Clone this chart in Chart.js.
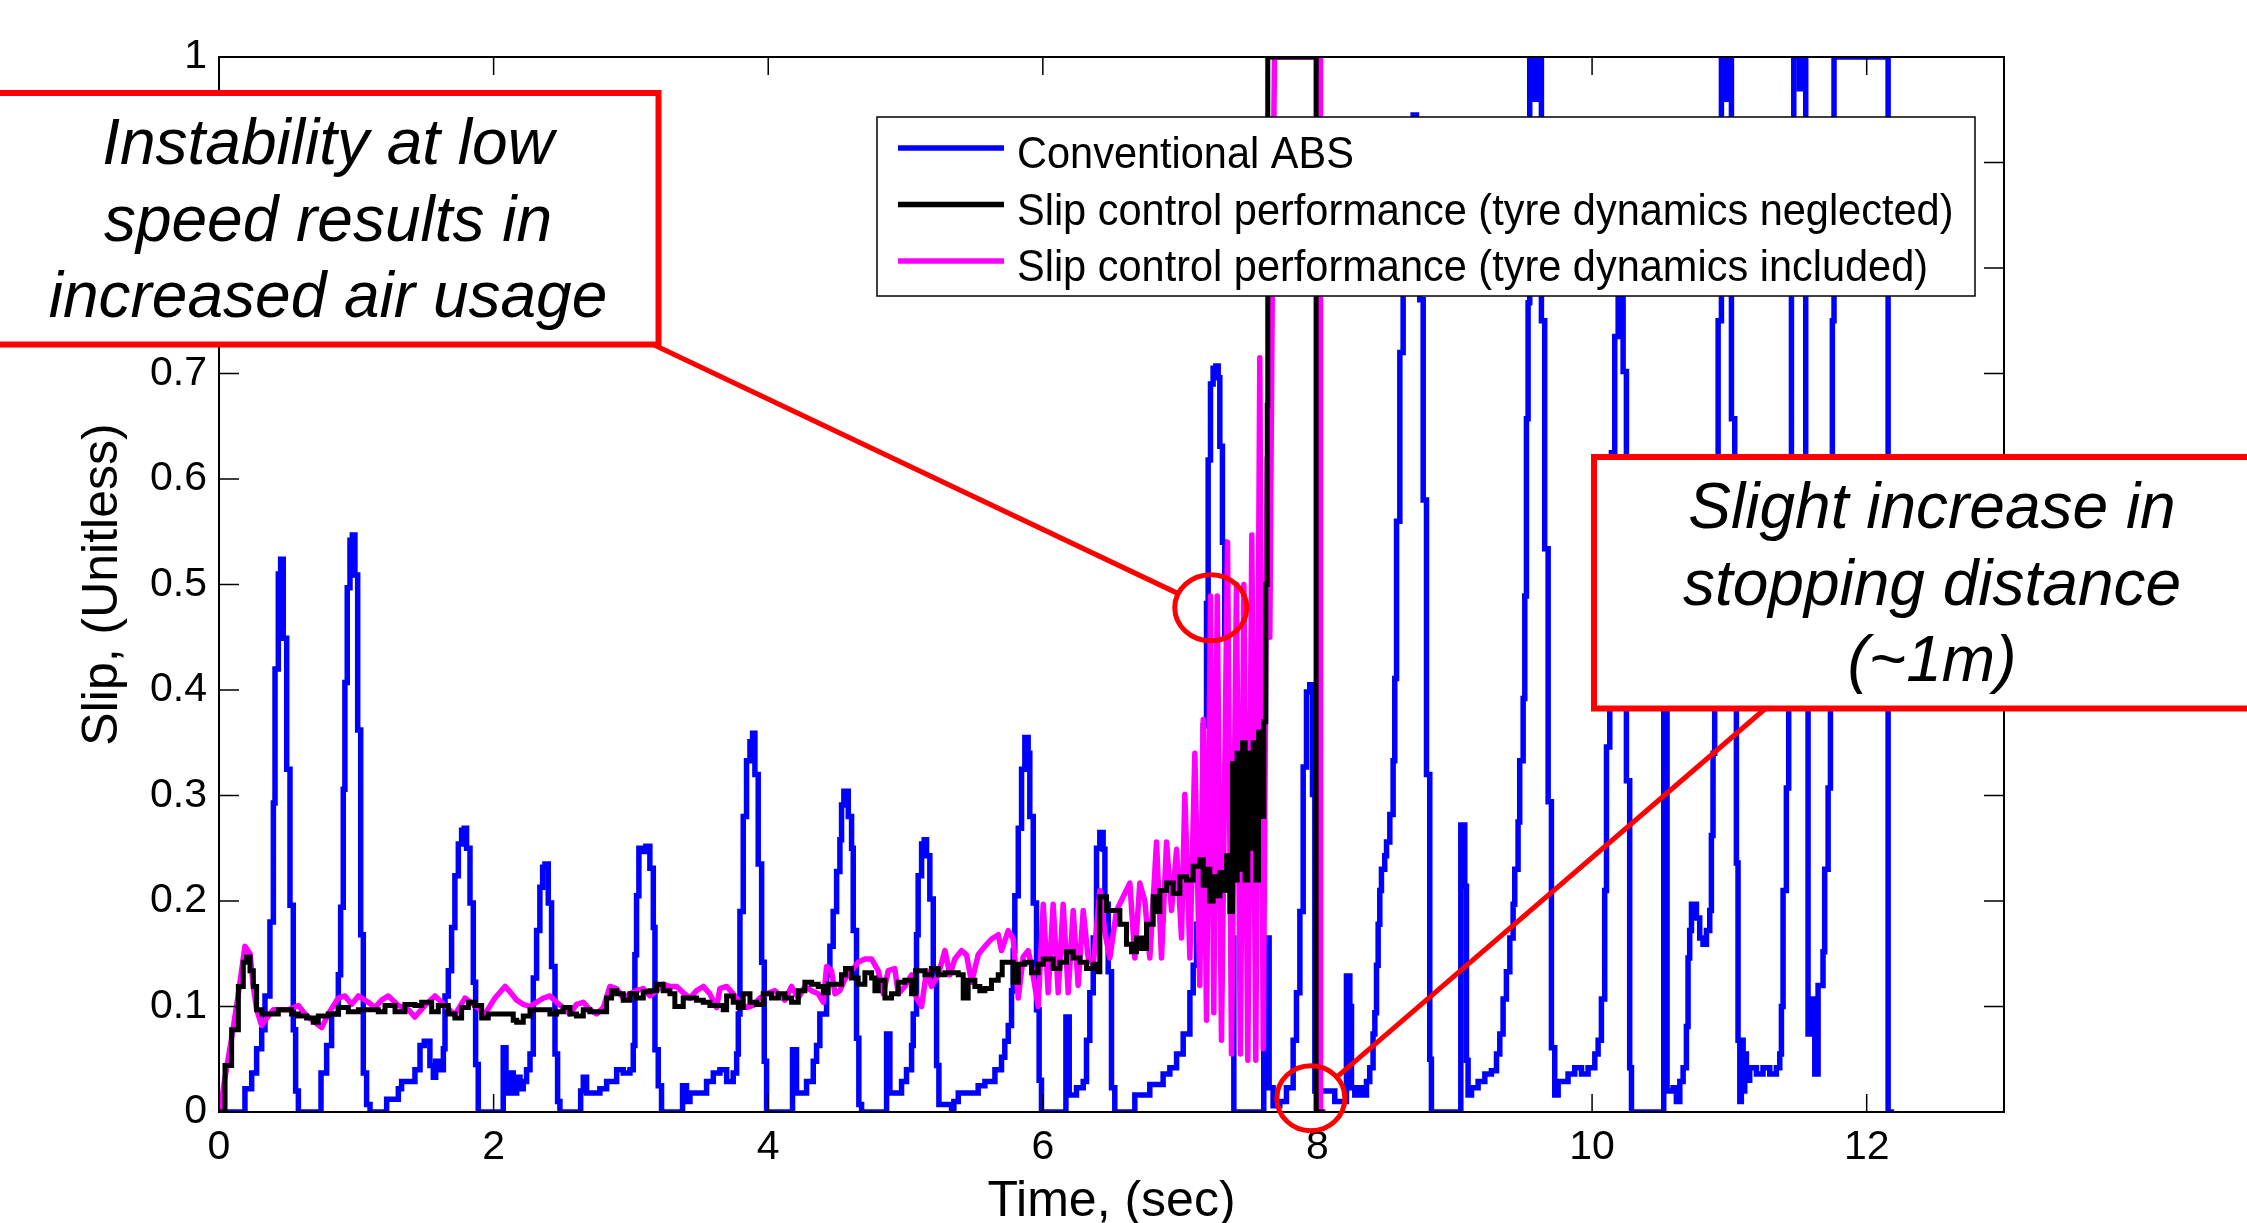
<!DOCTYPE html>
<html>
<head>
<meta charset="utf-8">
<title>Slip vs time</title>
<script src="https://cdn.jsdelivr.net/npm/chart.js@4.4.1/dist/chart.umd.min.js"></script>
<style>
  html, body { margin: 0; padding: 0; overflow: hidden; background: #fff; }
  canvas { display: block; }
</style>
</head>
<body>
<canvas id="slip" width="2247" height="1232"></canvas>
<script>
// series: [time (s), slip]
const absPoints = [
  [0,0],[0.189,0.022],[0.238,0.037],[0.274,0.06],[0.311,0.078],[0.335,0.11],[0.371,0.18],[0.396,0.293],[0.408,0.42],[0.432,0.51],[0.449,0.524],[0.468,0.449],[0.493,0.325],[0.517,0.196],[0.541,0.078],[0.558,0.02],[0.578,0],
  [0.743,0.037],[0.784,0.063],[0.82,0.093],[0.869,0.13],[0.886,0.194],[0.905,0.306],[0.917,0.407],[0.934,0.497],[0.954,0.542],[0.971,0.547],[0.99,0.509],[1.01,0.362],[1.032,0.168],[1.051,0.037],[1.075,0.007],[1.1,0],
  [1.221,0.012],[1.306,0.022],[1.33,0.029],[1.427,0.04],[1.464,0.063],[1.495,0.067],[1.536,0.044],[1.561,0.033],[1.578,0.048],[1.609,0.04],[1.634,0.06],[1.646,0.11],[1.67,0.134],[1.694,0.175],[1.718,0.224],[1.743,0.254],[1.767,0.267],[1.786,0.269],[1.803,0.25],[1.828,0.198],[1.852,0.123],[1.869,0.045],[1.888,0],
  [2.07,0.061],[2.09,0.018],[2.124,0.037],[2.143,0.018],[2.168,0.033],[2.192,0.022],[2.216,0.029],[2.24,0.04],[2.265,0.055],[2.289,0.127],[2.313,0.172],[2.337,0.213],[2.357,0.232],[2.374,0.235],[2.398,0.198],[2.422,0.138],[2.447,0.055],[2.466,0.01],[2.483,0],
  [2.634,0.02],[2.653,0.033],[2.677,0.018],[2.774,0.022],[2.823,0.029],[2.896,0.04],[2.944,0.037],[2.993,0.04],[3.017,0.063],[3.029,0.149],[3.041,0.205],[3.058,0.25],[3.085,0.247],[3.109,0.252],[3.138,0.231],[3.163,0.175],[3.175,0.059],[3.199,0.025],[3.223,0],
  [3.376,0.025],[3.405,0.01],[3.43,0.018],[3.551,0.029],[3.6,0.037],[3.648,0.04],[3.697,0.029],[3.745,0.037],[3.77,0.055],[3.782,0.093],[3.794,0.19],[3.818,0.28],[3.842,0.333],[3.867,0.351],[3.886,0.359],[3.903,0.32],[3.927,0.235],[3.952,0.142],[3.971,0.048],[3.988,0],
  [4.177,0.059],[4.206,0.018],[4.279,0.029],[4.328,0.048],[4.352,0.063],[4.376,0.093],[4.425,0.13],[4.449,0.157],[4.473,0.19],[4.498,0.228],[4.522,0.258],[4.534,0.291],[4.551,0.304],[4.583,0.28],[4.607,0.25],[4.619,0.172],[4.643,0.07],[4.66,0.007],[4.68,0],
  [4.862,0.074],[4.886,0.018],[4.971,0.029],[5.007,0.04],[5.044,0.063],[5.056,0.093],[5.08,0.168],[5.092,0.224],[5.117,0.254],[5.136,0.258],[5.153,0.243],[5.177,0.202],[5.202,0.123],[5.226,0.044],[5.243,0.007],[5.335,0],
  [5.352,0.01],[5.384,0.018],[5.529,0.025],[5.578,0.029],[5.651,0.04],[5.699,0.052],[5.723,0.067],[5.748,0.082],[5.772,0.115],[5.784,0.153],[5.796,0.205],[5.821,0.269],[5.845,0.325],[5.869,0.355],[5.893,0.34],[5.905,0.28],[5.93,0.198],[5.954,0.097],[5.973,0.03],[5.99,0],
  [6.168,0.09],[6.192,0.016],[6.245,0.023],[6.294,0.029],[6.318,0.068],[6.342,0.113],[6.367,0.165],[6.391,0.25],[6.415,0.265],[6.439,0.249],[6.452,0.197],[6.476,0.133],[6.5,0.023],[6.524,0],
  [6.67,0.016],[6.779,0.026],[6.876,0.036],[6.925,0.042],[6.974,0.055],[7.022,0.074],[7.071,0.113],[7.095,0.139],[7.119,0.178],[7.143,0.262],[7.168,0.366],[7.192,0.482],[7.204,0.618],[7.221,0.69],[7.24,0.705],[7.26,0.707],[7.277,0.696],[7.289,0.631],[7.308,0.54],[7.325,0.45],[7.35,0.295],[7.374,0.165],[7.391,0],
  [7.609,0.165],[7.648,0.023],[7.677,0.006],[7.726,0.01],[7.774,0.023],[7.823,0.068],[7.847,0.113],[7.872,0.19],[7.896,0.327],[7.92,0.398],[7.944,0.405],[7.964,0.301],[7.981,0.02],[8.126,0.01],
  [8.211,0.129],[8.236,0.1],[8.248,0.023],[8.272,0.016],[8.296,0.023],[8.333,0.016],[8.357,0.029],[8.381,0.042],[8.405,0.074],[8.418,0.094],[8.43,0.139],[8.442,0.178],[8.454,0.21],[8.466,0.23],[8.49,0.243],[8.503,0.256],[8.527,0.282],[8.551,0.333],[8.563,0.411],[8.576,0.56],[8.6,0.72],[8.624,0.786],[8.648,0.845],[8.672,0.93],[8.697,0.945],[8.721,0.88],[8.745,0.77],[8.77,0.58],[8.794,0.32],[8.818,0.05],[8.83,0],
  [9.044,0.272],[9.073,0.214],[9.085,0.049],[9.097,0.016],[9.122,0.023],[9.17,0.029],[9.219,0.036],[9.267,0.039],[9.304,0.055],[9.328,0.074],[9.352,0.107],[9.376,0.133],[9.401,0.165],[9.425,0.197],[9.437,0.23],[9.461,0.275],[9.473,0.333],[9.498,0.392],[9.51,0.489],[9.522,0.657],[9.534,0.767],[9.546,1],[9.583,0.96],[9.602,1],[9.631,0.75],[9.655,0.534],[9.68,0.294],[9.704,0.061],[9.728,0.016],[9.753,0.029],[9.825,0.036],[9.874,0.042],[9.923,0.036],[9.971,0.042],
  [10.02,0.055],[10.044,0.068],[10.068,0.107],[10.092,0.21],[10.105,0.346],[10.129,0.489],[10.141,0.625],[10.165,0.735],[10.19,0.85],[10.214,0.82],[10.226,0.702],[10.25,0.314],[10.274,0.042],[10.287,0],
  [10.522,0.5],[10.546,0.02],[10.59,0.023],[10.614,0.01],[10.639,0.029],[10.663,0.042],[10.687,0.081],[10.699,0.146],[10.711,0.172],[10.724,0.197],[10.76,0.184],[10.784,0.165],[10.808,0.159],[10.833,0.172],[10.857,0.191],[10.869,0.262],[10.881,0.34],[10.893,0.45],[10.918,0.75],[10.942,1],[10.978,0.96],[10.998,1],[11.015,0.657],[11.039,0.437],[11.051,0.236],[11.063,0.068],[11.076,0.01],[11.087,0.068],[11.1,0.02],[11.112,0.055],[11.124,0.03],[11.148,0.042],[11.197,0.036],[11.245,0.042],[11.294,0.036],[11.342,0.042],[11.367,0.055],[11.379,0.1],[11.391,0.21],[11.415,0.307],[11.432,0.5],[11.452,0.8],[11.469,1],[11.51,0.97],[11.537,1],[11.556,0.6],[11.573,0.074],[11.59,0.1],[11.61,0.107],[11.622,0.036],[11.646,0.12],[11.682,0.152],[11.694,0.23],[11.719,0.307],[11.736,0.5],[11.75,0.75],[11.762,1],[12.156,0],[12.2,0]
];

const negPoints = [
  [0.007,0],[0.044,0.044],[0.092,0.078],[0.141,0.119],[0.177,0.142],[0.201,0.147],[0.226,0.134],[0.25,0.119],[0.274,0.097],[0.311,0.093],[0.384,0.093],[0.432,0.097],[0.481,0.097],[0.529,0.093],[0.578,0.091],[0.638,0.089],[0.687,0.085],[0.723,0.091],[0.796,0.093],[0.869,0.099],[0.942,0.095],[1.015,0.097],[1.112,0.097],[1.16,0.095],[1.209,0.101],[1.282,0.095],[1.354,0.102],[1.427,0.101],[1.476,0.104],[1.549,0.095],[1.597,0.101],[1.67,0.093],[1.718,0.089],[1.767,0.099],[1.816,0.104],[1.864,0.101],[1.913,0.089],[1.961,0.093],
  [2.07,0.093],[2.143,0.087],[2.168,0.085],[2.216,0.091],[2.265,0.097],[2.362,0.097],[2.41,0.093],[2.459,0.095],[2.507,0.099],[2.556,0.093],[2.604,0.091],[2.653,0.097],[2.701,0.095],[2.799,0.095],[2.823,0.108],[2.859,0.115],[2.896,0.112],[2.944,0.106],[2.993,0.112],[3.041,0.108],[3.09,0.114],[3.138,0.115],[3.187,0.121],[3.235,0.115],[3.284,0.112],[3.32,0.1],[3.381,0.108],[3.43,0.108],[3.478,0.106],[3.527,0.104],[3.575,0.101],[3.624,0.101],[3.672,0.097],[3.697,0.11],[3.745,0.104],[3.782,0.099],[3.818,0.112],[3.867,0.104],[3.915,0.102],[3.964,0.112],[4.024,0.108],
  [4.073,0.112],[4.121,0.108],[4.17,0.104],[4.219,0.115],[4.267,0.123],[4.316,0.121],[4.364,0.119],[4.401,0.113],[4.437,0.121],[4.486,0.121],[4.534,0.13],[4.563,0.136],[4.607,0.127],[4.655,0.121],[4.704,0.132],[4.753,0.127],[4.777,0.115],[4.801,0.125],[4.85,0.108],[4.898,0.112],[4.947,0.123],[4.995,0.125],[5.044,0.112],[5.073,0.134],[5.117,0.134],[5.141,0.13],[5.189,0.136],[5.238,0.13],[5.287,0.132],[5.335,0.132],[5.384,0.13],[5.42,0.108],[5.456,0.125],[5.505,0.119],[5.541,0.115],[5.578,0.117],[5.626,0.125],[5.675,0.13],[5.704,0.142],[5.748,0.142],[5.784,0.123],[5.821,0.14],[5.869,0.142],[5.918,0.132],[5.966,0.14],[6.003,0.145],
  [6.075,0.136],[6.124,0.142],[6.172,0.152],[6.221,0.146],[6.27,0.142],[6.318,0.136],[6.367,0.14],[6.403,0.133],[6.415,0.204],[6.464,0.191],[6.512,0.191],[6.561,0.178],[6.609,0.159],[6.646,0.152],[6.682,0.165],[6.719,0.155],[6.755,0.178],[6.804,0.204],[6.828,0.19],[6.852,0.21],[6.901,0.217],[6.949,0.207],[6.998,0.223],[7.046,0.22],[7.095,0.233],[7.143,0.239],[7.168,0.215],[7.192,0.23],[7.216,0.2],[7.24,0.223],[7.265,0.205],[7.289,0.227],[7.313,0.21],[7.338,0.243],[7.362,0.19],[7.381,0.33],[7.398,0.22],[7.415,0.34],[7.435,0.23],[7.454,0.35],[7.473,0.22],[7.493,0.34],[7.512,0.25],[7.532,0.35],[7.551,0.22],[7.571,0.36],[7.59,0.28],[7.609,0.37],[7.624,0.5],[7.634,0.67],[7.638,1],[7.988,1],[7.99,0],[8.05,0]
];

const incPoints = [
  [0.007,0],[0.044,0.033],[0.092,0.07],[0.141,0.112],[0.189,0.157],[0.226,0.15],[0.25,0.119],[0.274,0.097],[0.311,0.082],[0.347,0.089],[0.396,0.097],[0.456,0.097],[0.505,0.097],[0.578,0.101],[0.626,0.093],[0.699,0.085],[0.748,0.08],[0.796,0.093],[0.869,0.108],[0.917,0.11],[0.966,0.102],[1.015,0.11],[1.087,0.104],[1.136,0.099],[1.184,0.106],[1.233,0.11],[1.306,0.101],[1.379,0.097],[1.427,0.09],[1.5,0.101],[1.573,0.11],[1.646,0.101],[1.718,0.092],[1.791,0.108],[1.864,0.101],[1.937,0.093],[2.01,0.108],
  [2.083,0.119],[2.119,0.114],[2.168,0.106],[2.216,0.102],[2.265,0.1],[2.313,0.104],[2.362,0.108],[2.41,0.11],[2.459,0.104],[2.507,0.099],[2.556,0.093],[2.604,0.102],[2.653,0.104],[2.701,0.097],[2.75,0.093],[2.799,0.099],[2.847,0.119],[2.896,0.117],[2.944,0.108],[2.993,0.112],[3.041,0.115],[3.09,0.117],[3.138,0.11],[3.187,0.115],[3.235,0.121],[3.284,0.119],[3.333,0.119],[3.381,0.113],[3.43,0.108],[3.478,0.115],[3.527,0.119],[3.575,0.112],[3.624,0.099],[3.648,0.117],[3.697,0.119],[3.745,0.112],[3.794,0.104],[3.842,0.099],[3.891,0.101],[3.939,0.108],[3.988,0.112],[4.049,0.115],
  [4.121,0.106],[4.17,0.119],[4.219,0.108],[4.267,0.119],[4.316,0.115],[4.364,0.112],[4.401,0.104],[4.425,0.138],[4.461,0.134],[4.486,0.112],[4.522,0.115],[4.558,0.126],[4.607,0.134],[4.655,0.142],[4.704,0.145],[4.753,0.145],[4.801,0.134],[4.838,0.112],[4.874,0.134],[4.922,0.136],[4.947,0.112],[4.995,0.119],[5.044,0.13],[5.08,0.108],[5.117,0.1],[5.153,0.134],[5.189,0.119],[5.238,0.13],[5.287,0.153],[5.323,0.13],[5.359,0.145],[5.408,0.153],[5.444,0.149],[5.481,0.123],[5.529,0.149],[5.578,0.157],[5.626,0.164],[5.675,0.168],[5.699,0.153],[5.748,0.172],[5.784,0.164],[5.821,0.108],[5.857,0.147],[5.893,0.153],[5.918,0.138],[5.966,0.1],[6.003,0.197],
  [6.039,0.113],[6.075,0.197],[6.112,0.113],[6.148,0.197],[6.185,0.113],[6.221,0.191],[6.257,0.12],[6.294,0.191],[6.33,0.146],[6.367,0.139],[6.415,0.21],[6.452,0.17],[6.488,0.146],[6.537,0.191],[6.585,0.204],[6.634,0.217],[6.67,0.146],[6.706,0.217],[6.743,0.2],[6.779,0.146],[6.828,0.256],[6.864,0.146],[6.901,0.256],[6.937,0.191],[6.974,0.249],[7.01,0.165],[7.034,0.301],[7.071,0.146],[7.107,0.34],[7.143,0.12],[7.168,0.372],[7.192,0.087],[7.221,0.489],[7.245,0.094],[7.27,0.489],[7.301,0.068],[7.345,0.54],[7.374,0.055],[7.41,0.5],[7.439,0.055],[7.464,0.5],[7.493,0.049],[7.522,0.547],[7.551,0.049],[7.58,0.715],[7.605,0.06],[7.634,0.62],[7.653,0.45],[7.672,0.8],[7.687,1],[8.02,1],[8.022,0],[8.06,0]
];

const seriesLabels = [
  'Conventional ABS',
  'Slip control performance (tyre dynamics neglected)',
  'Slip control performance (tyre dynamics included)'
];

const xTicks = [0, 2, 4, 6, 8, 10, 12];
const xTickLabels = ['0', '2', '4', '6', '8', '10', '12'];
const yTicks = [0, 0.1, 0.2, 0.3, 0.4, 0.5, 0.6, 0.7, 0.8, 0.9, 1];
const yTickLabels = ['0', '0.1', '0.2', '0.3', '0.4', '0.5', '0.6', '0.7', '0.8', '0.9', '1'];

const noteLowSpeed = ['Instability at low', 'speed results in', 'increased air usage'];
const noteStopping = ['Slight increase in', 'stopping distance', '(~1m)'];

const CANVAS_H = 1232;
const FONT = '"Liberation Sans", Arial, Helvetica, sans-serif';

Chart.defaults.font.family = FONT;
Chart.defaults.color = '#000';

const toXY = pts => pts.map(([x, y]) => ({ x, y }));

// MATLAB style box with inward ticks on all four sides
const frame = {
  id: 'frame',
  afterDatasetsDraw(chart) {
    const { ctx, chartArea: a, scales: { x, y } } = chart;
    ctx.save();
    ctx.strokeStyle = '#000';
    ctx.lineWidth = 1.5;
    ctx.beginPath();
    x.ticks.forEach(t => {
      const px = x.getPixelForValue(t.value);
      ctx.moveTo(px, a.bottom); ctx.lineTo(px, a.bottom - 18);
      ctx.moveTo(px, a.top); ctx.lineTo(px, a.top + 18);
    });
    y.ticks.forEach(t => {
      const py = y.getPixelForValue(t.value);
      ctx.moveTo(a.left, py); ctx.lineTo(a.left + 20, py);
      ctx.moveTo(a.right, py); ctx.lineTo(a.right - 20, py);
    });
    ctx.stroke();
    ctx.lineWidth = 2;
    ctx.strokeRect(a.left, a.top, a.right - a.left, a.bottom - a.top);
    ctx.restore();
  }
};

const legendBox = {
  id: 'legendBox',
  afterDatasetsDraw(chart) {
    const { ctx } = chart;
    const box = { x: 877, y: 117, w: 1098, h: 179 };
    ctx.save();
    ctx.fillStyle = '#fff';
    ctx.fillRect(box.x, box.y, box.w, box.h);
    ctx.strokeStyle = '#000';
    ctx.lineWidth = 1.5;
    ctx.strokeRect(box.x, box.y, box.w, box.h);
    chart.data.datasets.forEach((ds, i) => {
      const ly = 148 + i * 56.5;
      ctx.strokeStyle = ds.borderColor;
      ctx.lineWidth = 5.5;
      ctx.beginPath();
      ctx.moveTo(898, ly);
      ctx.lineTo(1004, ly);
      ctx.stroke();
      ctx.save();
      ctx.translate(1017, ly + 20);
      ctx.scale(1, 1.08);
      ctx.fillStyle = '#000';
      ctx.font = '41.5px ' + FONT;
      ctx.textAlign = 'left';
      ctx.textBaseline = 'alphabetic';
      ctx.fillText(ds.label, 0, 0);
      ctx.restore();
    });
    ctx.restore();
  }
};

// red call-out boxes, leader lines and circles
const callouts = {
  id: 'callouts',
  afterDatasetsDraw(chart) {
    const { ctx, scales: { x, y } } = chart;
    const notes = [
      { at: [7.223, 0.478], rx: 36, ry: 33, from: [652, 344],
        box: [-20, 93, 678.5, 251.5], text: noteLowSpeed, tx: 328, ty: 164 },
      { at: [7.952, 0.013], rx: 34, ry: 32.5, from: [1766, 708],
        box: [1594, 457, 700, 251.5], text: noteStopping, tx: 1932, ty: 528 }
    ];
    ctx.save();
    ctx.strokeStyle = '#ff0000';
    notes.forEach(n => {
      const cx = x.getPixelForValue(n.at[0]);
      const cy = y.getPixelForValue(n.at[1]);
      const ang = Math.atan2(n.from[1] - cy, n.from[0] - cx);
      ctx.lineWidth = 5;
      ctx.beginPath();
      ctx.moveTo(n.from[0], n.from[1]);
      ctx.lineTo(cx + n.rx * Math.cos(ang), cy + n.ry * Math.sin(ang));
      ctx.stroke();
      ctx.beginPath();
      ctx.ellipse(cx, cy, n.rx, n.ry, 0, 0, Math.PI * 2);
      ctx.stroke();
    });
    notes.forEach(n => {
      const [bx, by, bw, bh] = n.box;
      ctx.fillStyle = '#fff';
      ctx.fillRect(bx, by, bw, bh);
      ctx.lineWidth = 6;
      ctx.strokeRect(bx, by, bw, bh);
      ctx.fillStyle = '#000';
      ctx.font = 'italic 64px ' + FONT;
      ctx.textAlign = 'center';
      ctx.textBaseline = 'alphabetic';
      n.text.forEach((line, i) => ctx.fillText(line, n.tx, n.ty + i * 76.5));
    });
    ctx.restore();
  }
};

new Chart(document.getElementById('slip'), {
  type: 'line',
  data: {
    datasets: [
      { label: seriesLabels[0], data: toXY(absPoints), borderColor: '#0000ff', borderWidth: 5.5, stepped: 'before', order: 2 },
      { label: seriesLabels[1], data: toXY(negPoints), borderColor: '#000000', borderWidth: 5, stepped: 'before', order: 0 },
      { label: seriesLabels[2], data: toXY(incPoints), borderColor: '#ff00ff', borderWidth: 5.5, borderJoinStyle: 'round', order: 1 }
    ]
  },
  options: {
    responsive: false,
    animation: false,
    devicePixelRatio: 1,
    events: [],
    layout: { padding: { top: 57, right: 243, bottom: 0, left: 0 } },
    elements: { point: { radius: 0 }, line: { tension: 0, fill: false } },
    plugins: { legend: { display: false }, tooltip: { enabled: false } },
    scales: {
      x: {
        type: 'linear', min: 0, max: 13,
        grid: { display: false, drawTicks: false },
        border: { display: false },
        afterBuildTicks: s => { s.ticks = xTicks.map(v => ({ value: v })); },
        afterFit: s => { s.height = CANVAS_H - 1112; },
        ticks: { padding: 11, autoSkip: false, maxRotation: 0, font: { size: 41 },
                 callback: (v, i) => xTickLabels[i] },
        title: { display: true, text: 'Time, (sec)', font: { size: 50 }, padding: 0 }
      },
      y: {
        type: 'linear', min: 0, max: 1,
        grid: { display: false, drawTicks: false },
        border: { display: false },
        afterBuildTicks: s => { s.ticks = yTicks.map(v => ({ value: v })); },
        afterFit: s => { s.width = 219; },
        ticks: { padding: 12, autoSkip: false, font: { size: 41 },
                 callback: (v, i) => yTickLabels[i] },
        title: { display: true, text: 'Slip, (Unitless)', font: { size: 50 }, padding: { top: 73, bottom: 0 } }
      }
    }
  },
  plugins: [frame, legendBox, callouts]
});
</script>
</body>
</html>
